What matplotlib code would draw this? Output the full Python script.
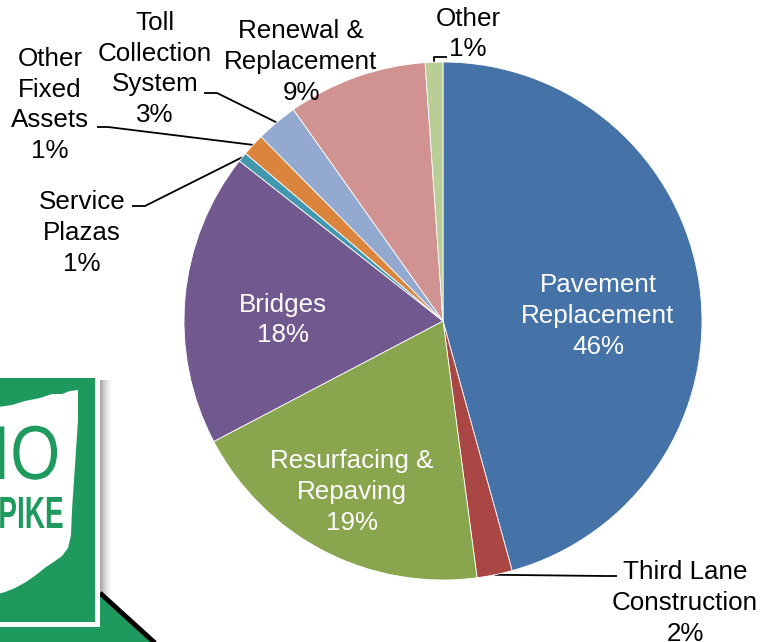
import matplotlib
matplotlib.use("Agg")
import matplotlib.pyplot as plt
from matplotlib.patches import Rectangle, Polygon
from matplotlib.patheffects import AbstractPathEffect
from matplotlib.transforms import Affine2D
import numpy as np

# capital budget split, clockwise from 12 o'clock
categories = ["Pavement\nReplacement", "Third Lane\nConstruction", "Resurfacing &\nRepaving",
              "Bridges", "Service\nPlazas", "Other\nFixed\nAssets", "Toll\nCollection\nSystem",
              "Renewal &\nReplacement", "Other"]
shares = [45.7, 2.2, 19.4, 18.3, 0.6, 1.4, 2.6, 8.7, 1.1]
colors = ["#4572A7", "#AA4643", "#89A54E", "#71588F", "#4198AF",
          "#DB843D", "#93A9CF", "#D19392", "#B9CD96"]

W, H = 762, 642
plt.rcParams['font.family'] = ['Liberation Sans', 'DejaVu Sans']

fig = plt.figure(figsize=(W / 100, H / 100), dpi=100)
ax = fig.add_axes([0, 0, 1, 1])


def Y(py):
    # work in screen pixels with the origin at the top
    return H - py


class Squeeze(AbstractPathEffect):
    """Narrow the glyphs horizontally about a fixed x (display pixels)."""

    def __init__(self, sx, x0):
        super().__init__()
        self.sx = sx
        self.x0 = x0

    def draw_path(self, renderer, gc, tpath, affine, rgbFace=None):
        squeeze = Affine2D().translate(-self.x0, 0).scale(self.sx, 1).translate(self.x0, 0)
        renderer.draw_path(gc, tpath, affine + squeeze, rgbFace)


# ---- turnpike sign in the lower-left corner ----
sign_green = "#1F9A5E"
for i in range(12):
    ax.add_patch(Rectangle((100 + i, Y(622)), 1.05, 242, facecolor="#606060",
                           edgecolor="none", alpha=0.55 * (1 - i / 12) ** 1.5, zorder=1))
ax.add_patch(Polygon([(0, Y(625)), (100, Y(593)), (155, Y(642)), (0, Y(642))],
                     closed=True, facecolor=sign_green, edgecolor="none", zorder=1))
ax.plot([100, 155], [Y(593), Y(643)], color="black", lw=3.5, zorder=1.5, solid_capstyle="butt")
ax.add_patch(Rectangle((-10, Y(627)), 110, 252, facecolor="white", edgecolor="none", zorder=2))
ax.add_patch(Rectangle((-10, Y(622)), 105, 244, facecolor=sign_green, edgecolor="none", zorder=2))
ohio = [(-2, 407), (12, 405), (25, 401), (40, 398), (52, 394), (62, 394), (70, 391), (78, 390),
        (78, 420), (76, 450), (74, 480), (72, 510), (71, 535), (68, 548), (62, 556),
        (55, 561), (46, 567), (36, 575), (26, 582), (15, 588), (5, 592), (-2, 594)]
ax.add_patch(Polygon([(x, Y(y)) for x, y in ohio], closed=True, facecolor="white",
                     edgecolor="none", zorder=3))
ax.text(60, Y(479), "OHIO", ha="right", va="baseline", fontsize=55, color=sign_green,
        zorder=4, path_effects=[Squeeze(0.84, 60)])
ax.text(63.5, Y(528), "TURNPIKE", ha="right", va="baseline", fontsize=32.5, weight="bold",
        color=sign_green, zorder=4, path_effects=[Squeeze(0.62, 63.5)])

# ---- pie ----
cx, cy, R = 443, Y(321), 259
wedges, _ = ax.pie(shares, colors=colors, startangle=90, counterclock=False,
                   center=(cx, cy), radius=R, frame=True,
                   wedgeprops=dict(edgecolor="white", linewidth=0.6))
for w in wedges:
    w.set_zorder(5)


def mid_point(i, frac=1.0):
    w = wedges[i]
    ang = np.deg2rad((w.theta1 + w.theta2) / 2)
    return cx + frac * R * np.cos(ang), cy + frac * R * np.sin(ang)


def label(i):
    return f"{categories[i]}\n{round(shares[i]):d}%"


fs = 18.7
ls = 1.35

# labels inside the big slices
inside = {0: (598, 316), 2: (352, 492), 3: (283, 320)}
for i, (px, py) in inside.items():
    ax.text(px, Y(py), label(i), ha="center", va="center", fontsize=fs, color="white",
            linespacing=ls, zorder=6)

# labels outside with leader lines: text centre, elbow, line end
outside = {
    1: ((685, 603), (605, 576), (617, 576)),
    4: ((82, 233), (145, 206), (132, 206)),
    5: ((50, 105), (108, 127), (97, 127)),
    6: ((155, 69), (217, 93), (204, 93)),
    7: ((301, 62), None, None),
    8: ((468, 34), (434, 57), (447, 57)),
}
for i, (txt, elbow, end) in outside.items():
    ax.text(txt[0], Y(txt[1]), label(i), ha="center", va="center", fontsize=fs,
            color="black", linespacing=ls, zorder=6)
    if elbow is None:
        continue
    x0, y0 = mid_point(i)
    ax.plot([x0, elbow[0], end[0]], [y0, Y(elbow[1]), Y(end[1])], color="black",
            lw=1.3, zorder=4.5, solid_capstyle="butt")

ax.set_xlim(0, W)
ax.set_ylim(0, H)
ax.axis("off")

fig.savefig("out.png", dpi=100, facecolor="white")
